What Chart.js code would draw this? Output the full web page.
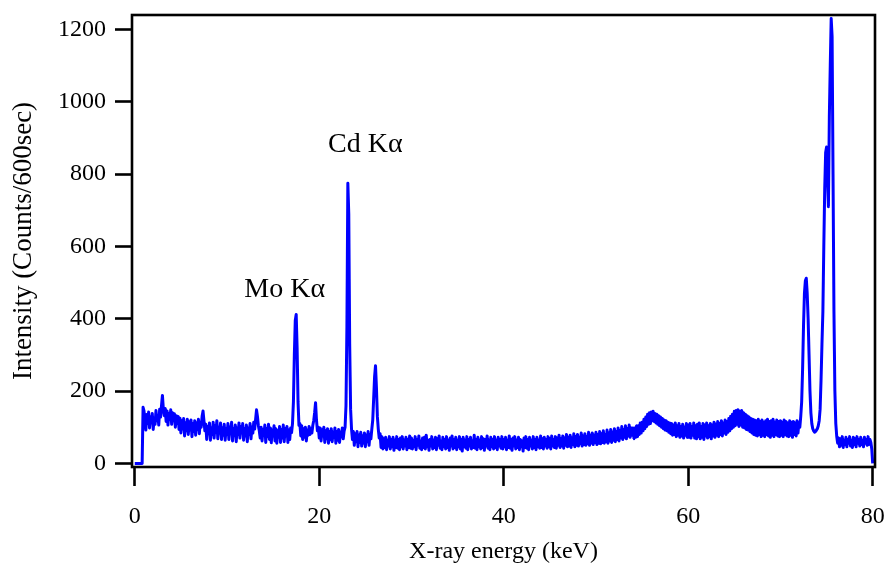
<!DOCTYPE html>
<html>
<head>
<meta charset="utf-8">
<script src="https://cdn.jsdelivr.net/npm/chart.js@4.4.1/dist/chart.umd.min.js"></script>
<style>
  html, body { margin: 0; padding: 0; background: #fff; }
  #wrap { width: 888px; height: 570px; }
</style>
</head>
<body>
<div id="wrap"><canvas id="spectrum-chart" width="888" height="570"></canvas></div>
<script>
// channel grid (keV) and counts, 0.1 keV per channel
const energyStart = 0;
const energyStep = 0.1;

const counts0to10 = [
    0, 0, 0, 0, 0, 0, 0, 0, 0, 155,
    145, 120, 92, 135, 110, 142, 98, 128, 115, 138,
    94, 125, 108, 146, 118, 132, 106, 150, 128, 160,
    188, 150, 132, 152, 116, 145, 106, 138, 122, 148,
    108, 140, 118, 137, 100, 132, 110, 130, 94, 125,
    84, 118, 95, 124, 76, 112, 90, 122, 80, 115,
    92, 120, 74, 110, 88, 118, 78, 112, 94, 122,
    82, 114, 100, 130, 145, 118, 90, 108, 66, 102,
    82, 112, 64, 98, 80, 114, 70, 104, 86, 118,
    68, 100, 84, 112, 66, 98, 78, 108, 64, 96
];
const counts10to20 = [
    80, 110, 66, 100, 82, 114, 62, 96, 78, 106,
    60, 98, 80, 112, 70, 102, 85, 110, 64, 95,
    76, 106, 60, 98, 80, 110, 68, 100, 84, 114,
    95, 122, 148, 130, 105, 90, 70, 100, 62, 94,
    78, 106, 58, 96, 74, 108, 66, 98, 57, 92,
    76, 104, 62, 96, 56, 90, 72, 102, 58, 94,
    70, 106, 60, 96, 76, 102, 58, 92, 66, 98,
    85, 110, 170, 300, 395, 412, 320, 170, 105, 110,
    76, 104, 66, 96, 72, 100, 62, 92, 78, 102,
    80, 95, 84, 105, 118, 140, 168, 120, 90, 100
];
const counts20to30 = [
    70, 98, 62, 92, 76, 100, 58, 90, 68, 96,
    56, 88, 66, 96, 60, 86, 72, 98, 56, 88,
    64, 94, 58, 86, 74, 98, 68, 90, 100, 160,
    380, 775, 690, 330, 150, 95, 66, 88, 50, 82,
    60, 88, 46, 78, 58, 86, 48, 76, 56, 84,
    46, 78, 60, 88, 50, 80, 68, 95, 120, 180,
    240, 270, 210, 130, 95, 70, 82, 44, 74, 40,
    68, 44, 72, 38, 64, 48, 74, 40, 66, 46,
    72, 36, 64, 44, 74, 42, 66, 38, 70, 46,
    74, 40, 64, 48, 72, 38, 66, 44, 76, 42
];
const counts30to40 = [
    70, 40, 64, 46, 74, 38, 66, 50, 76, 42,
    62, 38, 70, 44, 72, 40, 78, 46, 64, 36,
    66, 48, 74, 40, 64, 44, 72, 38, 68, 50,
    76, 42, 62, 38, 72, 46, 66, 40, 74, 44,
    64, 36, 70, 48, 76, 40, 66, 44, 72, 38,
    64, 46, 74, 40, 66, 34, 72, 46, 64, 42,
    74, 38, 66, 48, 72, 40, 62, 44, 78, 42,
    66, 38, 72, 46, 64, 40, 74, 44, 68, 36,
    66, 48, 76, 42, 64, 38, 72, 46, 66, 40,
    74, 44, 64, 38, 72, 48, 66, 42, 74, 40
];
const counts40to50 = [
    66, 46, 72, 38, 64, 44, 76, 42, 66, 36,
    70, 48, 74, 40, 64, 44, 72, 38, 66, 46,
    62, 34, 70, 44, 74, 42, 66, 38, 72, 48,
    64, 40, 74, 44, 66, 38, 72, 46, 64, 42,
    76, 44, 68, 40, 72, 48, 66, 42, 74, 46,
    68, 40, 76, 48, 66, 44, 74, 42, 70, 50,
    78, 44, 68, 48, 76, 42, 70, 50, 80, 46,
    72, 48, 78, 44, 70, 52, 82, 46, 74, 50,
    80, 48, 72, 54, 84, 48, 76, 52, 82, 50,
    74, 54, 86, 50, 78, 56, 84, 52, 78, 58
];
const counts50to60 = [
    86, 52, 80, 56, 88, 54, 82, 58, 90, 56,
    80, 60, 92, 56, 84, 62, 94, 58, 86, 64,
    96, 60, 88, 66, 98, 62, 90, 70, 102, 66,
    94, 72, 104, 68, 96, 76, 106, 72, 98, 78,
    98, 68, 98, 72, 104, 74, 104, 80, 112, 84,
    114, 90, 122, 96, 128, 102, 136, 108, 140, 110,
    142, 118, 144, 116, 138, 112, 136, 108, 132, 104,
    128, 100, 124, 96, 120, 92, 118, 90, 114, 86,
    112, 82, 110, 78, 106, 80, 112, 74, 104, 78,
    110, 72, 102, 76, 108, 70, 100, 78, 110, 72
];
const counts60to70 = [
    106, 72, 110, 70, 102, 78, 112, 70, 104, 68,
    108, 74, 112, 68, 102, 72, 110, 66, 106, 76,
    112, 70, 104, 74, 110, 68, 106, 76, 114, 72,
    108, 78, 116, 74, 110, 80, 118, 76, 112, 84,
    120, 80, 116, 86, 124, 90, 130, 96, 136, 100,
    144, 104, 146, 108, 148, 102, 144, 106, 146, 100,
    140, 98, 136, 94, 132, 92, 128, 88, 124, 84,
    122, 80, 120, 78, 118, 76, 122, 80, 116, 74,
    120, 78, 114, 74, 118, 80, 122, 76, 116, 72,
    118, 78, 122, 74, 114, 80, 120, 76, 116, 74
];
const counts70to80 = [
    118, 78, 114, 74, 120, 80, 116, 76, 112, 74,
    118, 78, 114, 72, 116, 80, 112, 76, 118, 84,
    112, 100, 130, 170, 260, 380, 470, 505, 512, 470,
    400, 300, 200, 140, 110, 96, 90, 86, 88, 92,
    96, 104, 118, 150, 230, 330, 420, 600, 760, 860,
    875, 790, 710, 960, 1100, 1230, 1180, 800, 420, 200,
    110, 75, 56, 70, 46, 68, 50, 74, 44, 64,
    52, 72, 46, 66, 56, 74, 48, 64, 44, 72,
    52, 68, 46, 74, 56, 66, 48, 72, 52, 64,
    46, 72, 56, 66, 50, 74, 52, 66, 58, 40,
    0
];

const xTickValues = [0, 20, 40, 60, 80];
const yTickValues = [0, 200, 400, 600, 800, 1000, 1200];

// peak labels, placed in data units (centre x in keV, baseline in counts)
const peakLabels = ['Mo K\u03b1', 'Cd K\u03b1'];
const peakLabelX = [16.25, 25.0];
const peakLabelY = [460, 861];

const allCounts = [].concat(counts0to10, counts10to20, counts20to30, counts30to40,
    counts40to50, counts50to60, counts60to70, counts70to80);
const spectrum = allCounts.map((c, i) => ({ x: +(energyStart + i * energyStep).toFixed(1), y: c }));

const serif = '"Liberation Serif", "Times New Roman", serif';

// box around the plot + the two peak labels
const frameAndLabels = {
    id: 'frameAndLabels',
    afterDraw(chart) {
        const { ctx, chartArea: a, scales } = chart;
        ctx.save();
        ctx.strokeStyle = '#000';
        ctx.lineWidth = 2.6;
        ctx.strokeRect(a.left, a.top, a.right - a.left, a.bottom - a.top);

        ctx.fillStyle = '#000';
        ctx.font = '28px ' + serif;
        ctx.textAlign = 'center';
        ctx.textBaseline = 'alphabetic';
        peakLabels.forEach((t, i) => {
            ctx.fillText(t, scales.x.getPixelForValue(peakLabelX[i]), scales.y.getPixelForValue(peakLabelY[i]));
        });
        ctx.restore();
    }
};

const ctx = document.getElementById('spectrum-chart');
new Chart(ctx, {
    type: 'line',
    data: {
        datasets: [{
            label: 'Spectrum',
            data: spectrum,
            borderColor: '#0000ff',
            borderWidth: 3,
            borderJoinStyle: 'round',
            pointRadius: 0,
            tension: 0.001, // tiny tension keeps every channel in the path (no fast-path column merging)
            fill: false
        }]
    },
    options: {
        responsive: false,
        animation: false,
        devicePixelRatio: 1,
        layout: { padding: { top: 15, right: 13, left: 0, bottom: 0 } },
        plugins: {
            legend: { display: false },
            tooltip: { enabled: false }
        },
        scales: {
            x: {
                type: 'linear',
                min: -0.3,
                max: 80.25,
                afterBuildTicks: s => { s.ticks = xTickValues.map(v => ({ value: v })); },
                afterFit: s => {
                    s.height = 103;
                    s.paddingLeft = 0;
                    s.paddingRight = 0;
                },
                border: { display: false },
                grid: {
                    drawOnChartArea: false,
                    drawTicks: true,
                    tickLength: 19,
                    tickWidth: 2.6,
                    tickColor: '#000'
                },
                ticks: {
                    color: '#000',
                    font: { family: serif, size: 24 },
                    padding: 16,
                    maxRotation: 0,
                    callback: v => String(v)
                },
                title: {
                    display: true,
                    text: 'X-ray energy (keV)',
                    color: '#000',
                    font: { family: serif, size: 24 },
                    padding: { top: 0, bottom: 4 }
                }
            },
            y: {
                type: 'linear',
                min: -10,
                max: 1240,
                afterBuildTicks: s => { s.ticks = yTickValues.map(v => ({ value: v })); },
                afterFit: s => {
                    s.width = 132;
                    s.paddingTop = 0;
                    s.paddingBottom = 0;
                },
                border: { display: false },
                grid: {
                    drawOnChartArea: false,
                    drawTicks: true,
                    tickLength: 17,
                    tickWidth: 2.6,
                    tickColor: '#000'
                },
                ticks: {
                    color: '#000',
                    font: { family: serif, size: 24 },
                    padding: 9,
                    callback: v => String(v)
                },
                title: {
                    display: true,
                    text: 'Intensity (Counts/600sec)',
                    color: '#000',
                    font: { family: serif, size: 27 },
                    padding: { top: 8, bottom: 0 }
                }
            }
        }
    },
    plugins: [frameAndLabels]
});
</script>
</body>
</html>
